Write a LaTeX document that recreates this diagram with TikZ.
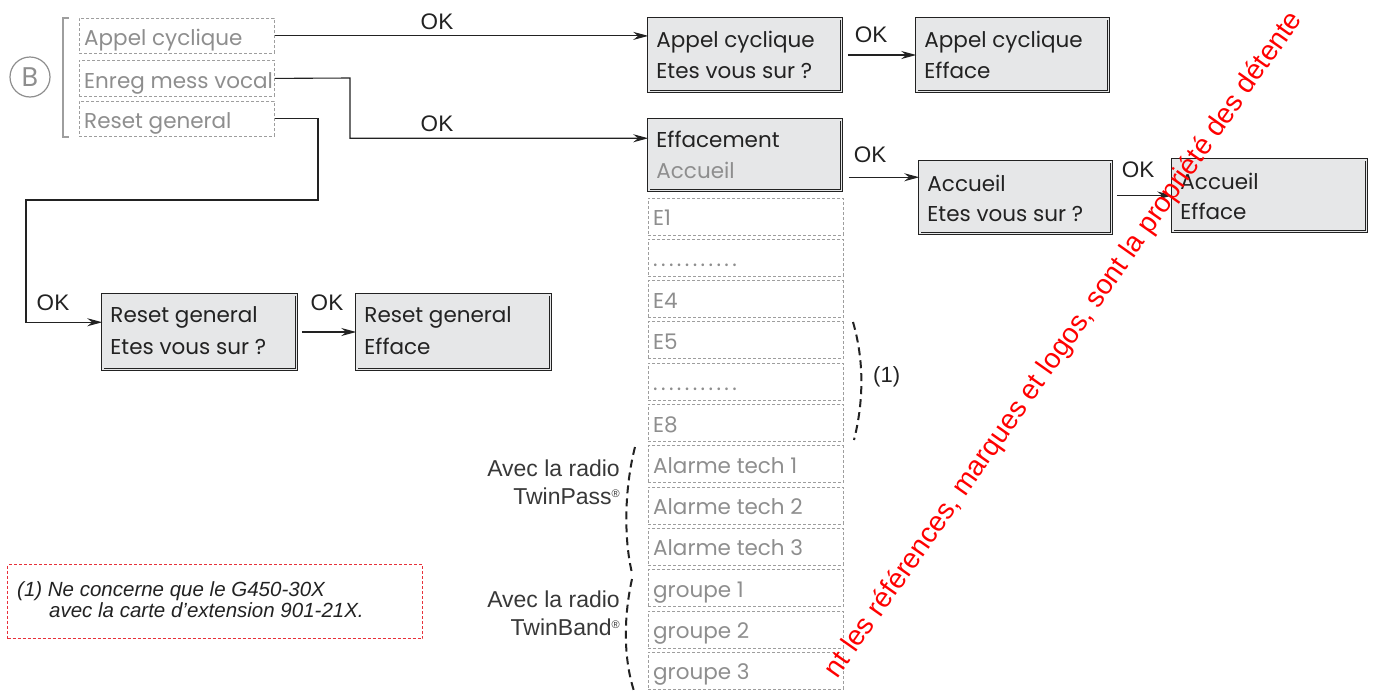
\documentclass[tikz,border=0pt]{standalone}
\usepackage{fontspec}
\setmainfont{Liberation Sans}
\newfontfamily\boxfont{Poppins}
\usetikzlibrary{arrows.meta,calc}
\definecolor{boxfill}{HTML}{E6E7E8}
\definecolor{txtgray}{HTML}{8E8E8E}
\definecolor{dashgray}{HTML}{9E9E9E}
\definecolor{ink}{HTML}{222222}
\definecolor{wmred}{HTML}{FF0000}
\definecolor{notered}{HTML}{E8303A}
\newcommand\dotsrow{\foreach \k in {1,...,11}{.\kern3.4pt}}
\begin{document}
\begin{tikzpicture}[x=1pt,y=-1pt,
  screen/.style={draw=ink, line width=0.9pt, double=boxfill, double distance=1.6pt, fill=boxfill, inner sep=0pt},
  menu/.style={draw=dashgray, line width=0.8pt, dash pattern=on 3pt off 2pt, inner sep=0pt, minimum width=195pt, anchor=north west},
  btxt/.style={font=\boxfont\fontsize{21.5}{24}\selectfont, text=ink, inner sep=0pt, anchor=base west},
  gtxt/.style={font=\boxfont\fontsize{21.5}{24}\selectfont, text=txtgray, inner sep=0pt, anchor=base west},
  oklab/.style={font=\fontsize{22.5}{24}\selectfont, text=ink, inner sep=0pt, anchor=base},
  conn/.style={draw=ink, line width=1.1pt, -{Stealth[length=15pt,width=8pt]}},
  brace/.style={draw=ink, line width=2pt, dash pattern=on 8pt off 5pt},
  side/.style={font=\fontsize{23}{26}\selectfont, text=ink!90, inner sep=0pt, anchor=base east},
  wm/.style={font=\fontsize{28}{30}\selectfont, text=wmred, inner sep=0pt}
]
\useasboundingbox (0,0) rectangle (1374,691);

% left menu
\node[circle, draw=txtgray, line width=1.2pt, minimum size=40pt, inner sep=0pt, text=txtgray, font=\boxfont\fontsize{27}{27}\selectfont] (B) at (30,77) {B};
\coordinate (bt) at (69,18);
\coordinate (bb) at (69,137);
\draw[draw=dashgray, line width=2pt] (bt) -- (63,18) -- (63,137) -- (bb);
\node[menu, minimum height=35pt] (m1) at (79,18) {};
\node[menu, minimum height=36pt] (m2) at (79,60) {};
\node[menu, minimum height=35pt] (m3) at (79,101) {};
\node[gtxt] (m1t) at ($(m1.north west)+(5,27)$) {Appel cyclique};
\node[gtxt] (m2t) at ($(m2.north west)+(5,28)$) {Enreg mess vocal};
\node[gtxt] (m3t) at ($(m3.north west)+(5,27)$) {Reset general};

% screens
\node[screen, minimum width=192.6pt, minimum height=72.6pt] (a1) at (745,55) {};
\node[screen, minimum width=191.6pt, minimum height=72.6pt] (a2) at (1012.5,55) {};
\node[screen, minimum width=192.6pt, minimum height=70.6pt] (eff) at (745,155) {};
\node[screen, minimum width=191.6pt, minimum height=71.6pt] (acc) at (1015.5,197.5) {};
\node[screen, minimum width=193.6pt, minimum height=71.6pt] (acc2) at (1269.5,195.5) {};
\node[screen, minimum width=193.6pt, minimum height=74.6pt] (rs1) at (199.5,332) {};
\node[screen, minimum width=193.6pt, minimum height=74.6pt] (rs2) at (453.5,332) {};

\node[btxt] (a1l1) at ($(a1.north west)+(8,29)$) {Appel cyclique};
\node[btxt] (a1l2) at ($(a1.north west)+(8,60)$) {Etes vous sur ?};
\node[btxt] (a2l1) at ($(a2.north west)+(8,29)$) {Appel cyclique};
\node[btxt] (a2l2) at ($(a2.north west)+(8,60)$) {Efface};
\node[btxt] (effl1) at ($(eff.north west)+(8,28)$) {Effacement};
\node[gtxt] (effl2) at ($(eff.north west)+(8,59)$) {Accueil};
\node[btxt] (accl1) at ($(acc.north west)+(8,30)$) {Accueil};
\node[btxt] (accl2) at ($(acc.north west)+(8,60)$) {Etes vous sur ?};
\node[btxt] (acc2l1) at ($(acc2.north west)+(8,30)$) {Accueil};
\node[btxt] (acc2l2) at ($(acc2.north west)+(8,60)$) {Efface};
\node[btxt] (rs1l1) at ($(rs1.north west)+(8,28)$) {Reset general};
\node[btxt] (rs1l2) at ($(rs1.north west)+(8,60)$) {Etes vous sur ?};
\node[btxt] (rs2l1) at ($(rs2.north west)+(8,28)$) {Reset general};
\node[btxt] (rs2l2) at ($(rs2.north west)+(8,60)$) {Efface};

% list rows
\foreach \i/\t in {0/E1,1/\dotsrow,2/E4,3/E5,4/\dotsrow,5/E8,6/Alarme tech 1,7/Alarme tech 2,8/Alarme tech 3,9/groupe 1,10/groupe 2,11/groupe 3}{
  \node[menu, minimum height=37pt] (row\i) at (648,197.5+41.3*\i) {};
  \node[gtxt] (rowt\i) at ($(row\i.north west)+(5,28)$) {\t};
}

% connectors
\draw[conn] (m1.east) -- (m1.east -| a1.west);
\coordinate (effin) at ($(eff.north west)+(0,19)$);
\coordinate (j2) at (350,78);
\draw[conn] (m2.east) -- (j2) |- (effin);
\coordinate (k1) at (318,200);
\coordinate (k2) at (26,200);
\coordinate (rsin) at ($(rs1.north west)+(0,28)$);
\draw[conn] (m3.east) -| (k1) -- (k2) |- (rsin);
\draw[conn] ($(a1.east)+(6,0)$) -- (a2.west);
\coordinate (accin) at ($(acc.north west)+(0,16)$);
\draw[conn] ($(accin -| eff.east)+(7,0)$) -- (accin);
\draw[conn] ($(acc.east |- acc2.west)+(5,0)$) -- (acc2.west);
\draw[conn] ($(rs1.east)+(5,0)$) -- (rs2.west);

% OK labels
\node[oklab] (ok1) at (437,29) {OK};
\node[oklab] (ok2) at (871,42) {OK};
\node[oklab] (ok3) at (437,131) {OK};
\node[oklab] (ok4) at (870,162) {OK};
\node[oklab] (ok5) at (1138,177) {OK};
\node[oklab] (ok6) at (53,310) {OK};
\node[oklab] (ok7) at (327,310) {OK};

% braces
\coordinate (b1a) at (853,322);
\coordinate (b1b) at (854,440);
\draw[brace] (b1a) .. controls (864,360) and (864,400) .. (b1b);
\node[font=\fontsize{22}{24}\selectfont, text=ink, inner sep=0pt, anchor=base west] (one) at (873,382) {(1)};
\coordinate (b2a) at (635,447);
\coordinate (b2m) at (632,573);
\coordinate (b2b) at (634,691);
\draw[brace] (b2a) .. controls (624,490) and (624,540) .. (b2m);
\draw[brace] ($(b2m)+(0,6)$) .. controls (623,620) and (624,660) .. (b2b);

\node[side] (tp1) at (620,476) {Avec la radio};
\node[side] (tp2) at (620,504) {TwinPass{\fontsize{11}{11}\selectfont\raisebox{7pt}{®}}};
\node[side] (tb1) at (620,607) {Avec la radio};
\node[side] (tb2) at (620,635) {TwinBand{\fontsize{11}{11}\selectfont\raisebox{7pt}{®}}};

% footnote
\node[draw=notered, line width=1pt, dash pattern=on 3pt off 2pt, minimum width=415pt, minimum height=74pt, anchor=north west, inner sep=0pt] (note) at (7,564) {};
\node[font=\itshape\fontsize{20.5}{22}\selectfont, text=ink, inner sep=0pt, anchor=base west] (n1) at ($(note.north west)+(10,32)$) {(1) Ne concerne que le G450-30X};
\node[font=\itshape\fontsize{20.5}{22}\selectfont, text=ink, inner sep=0pt, anchor=base west] (n2) at ($(note.north west)+(42,53)$) {avec la carte d’extension 901-21X.};

% watermark
\node[wm, rotate=54.8] (wmk) at (1064,345) {nt les références, marques et logos, sont la propriété des détente};
\end{tikzpicture}
\end{document}
